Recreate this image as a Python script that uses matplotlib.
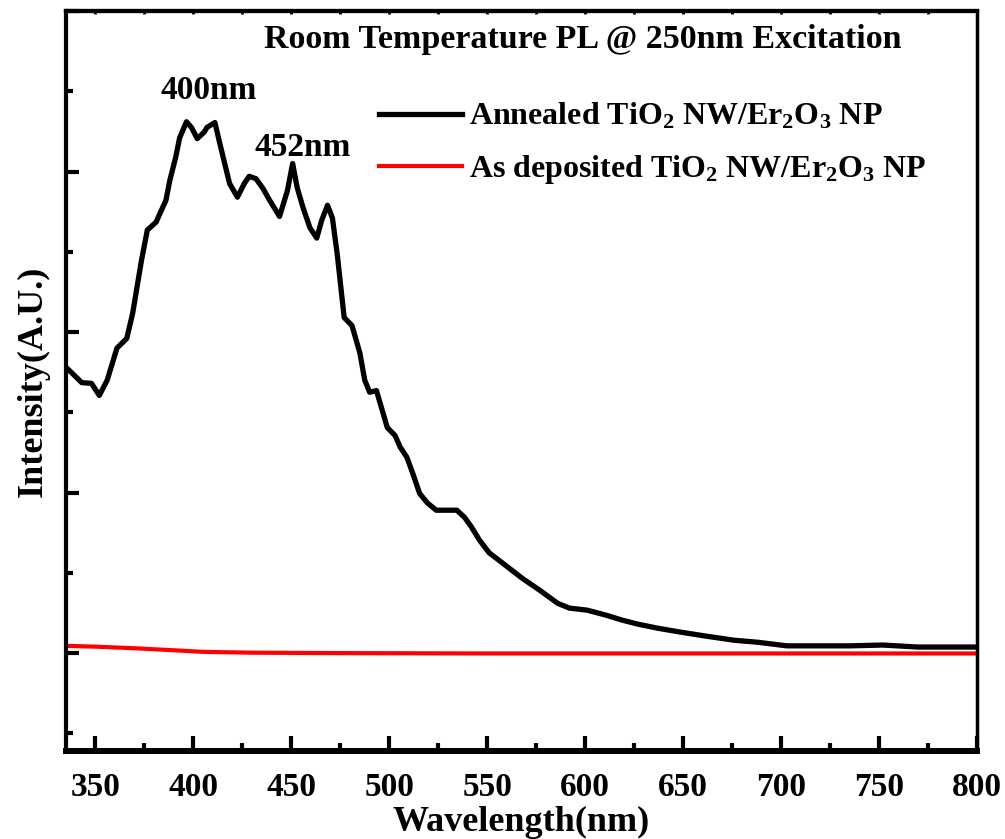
import matplotlib
matplotlib.use("Agg")
import matplotlib.pyplot as plt
from matplotlib.ticker import MultipleLocator

# Spectres PL (intensité en unités arbitraires)
wl_annealed = [335, 338, 343, 348, 352, 356, 361, 366, 369, 373.5, 376.5, 381, 383, 386, 388,
               391, 393, 396.5, 399, 402, 405.5, 407, 411, 414, 418.5, 422.5, 426, 428.5,
               432, 435.5, 439, 444, 448, 450.7, 453, 456, 459.5, 463, 465.5, 468.5, 471,
               473.5, 477, 481, 485, 487.5, 490, 493.5, 496, 499, 503, 505.5, 509, 512,
               515.5, 519.5, 524, 529.5, 534.5, 538.5, 542, 546, 551, 559, 568, 577, 586,
               592, 601, 611, 619, 627, 637, 649, 662, 676, 688, 703, 719, 735, 752, 770,
               787, 800]
int_annealed = [3560, 3490, 3370, 3360, 3210, 3400, 3800, 3920, 4230, 4890, 5270, 5370, 5480,
                5640, 5890, 6180, 6420, 6620, 6550, 6410, 6490, 6550, 6610, 6300, 5850, 5680,
                5850, 5940, 5910, 5790, 5640, 5440, 5760, 6100, 5800, 5550, 5300, 5170, 5390,
                5580, 5420, 4960, 4180, 4080, 3740, 3400, 3250, 3270, 3060, 2810, 2710, 2570,
                2440, 2240, 1990, 1870, 1780, 1780, 1780, 1690, 1570, 1410, 1250, 1100, 930,
                780, 620, 560, 535, 470, 410, 360, 310, 260, 210, 160, 135, 90, 90, 90, 100,
                75, 75, 75]

wl_asdep = [335, 350, 370, 390, 405, 430, 470, 550, 650, 800]
int_asdep = [90, 80, 60, 35, 15, 5, 0, -5, -5, -5]

label_annealed = r"Annealed TiO$_2$ NW/Er$_2$O$_3$ NP"
label_asdep = r"As deposited TiO$_2$ NW/Er$_2$O$_3$ NP"

plt.rcParams['font.family'] = 'Liberation Serif'
plt.rcParams['font.weight'] = 'bold'
plt.rcParams['mathtext.fontset'] = 'custom'
plt.rcParams['mathtext.rm'] = 'Liberation Serif:bold'
plt.rcParams['mathtext.it'] = 'Liberation Serif:bold'
plt.rcParams['mathtext.bf'] = 'Liberation Serif:bold'

fig = plt.figure(figsize=(10.05, 8.39), dpi=100)
ax = fig.add_axes([0.0657, 0.1049, 0.9063, 0.882])

ax.plot(wl_annealed, int_annealed, color='black', lw=3.8, label=label_annealed)
ax.plot(wl_asdep, int_asdep, color='red', lw=3.0, label=label_asdep)

ax.set_xlim(335, 800)
ax.set_ylim(-1220, 8000)

ax.xaxis.set_major_locator(MultipleLocator(50))
ax.xaxis.set_minor_locator(MultipleLocator(25))
ax.yaxis.set_major_locator(MultipleLocator(2000))
ax.yaxis.set_minor_locator(MultipleLocator(1000))

ax.tick_params(axis='x', which='major', direction='in', length=11, width=3,
               labelsize=24, pad=15, top=False)
ax.tick_params(axis='x', which='minor', direction='in', length=6, width=3, top=False)
ax.tick_params(axis='y', which='major', direction='in', length=9.5, width=3, labelleft=False)
ax.tick_params(axis='y', which='minor', direction='in', length=5, width=3)

# petites graduations sur l'axe du haut
top = ax.secondary_xaxis('top')
top.xaxis.set_major_locator(MultipleLocator(25))
top.tick_params(direction='in', length=2.5, width=2, labeltop=False)
top.spines['top'].set_linewidth(3)

for side, w in [('left', 3), ('bottom', 4.3), ('top', 3), ('right', 2.5)]:
    ax.spines[side].set_linewidth(w)

ax.set_xlabel("Wavelength(nm)", fontsize=26, fontweight='bold', labelpad=2)
ax.set_ylabel("Intensity(A.U.)", fontsize=26, fontweight='bold', labelpad=8)

ax.text(0.567, 0.962, "Room Temperature PL @ 250nm Excitation", transform=ax.transAxes,
        ha='center', va='center', fontsize=24.5, fontweight='bold')
ax.text(408, 7010, "400nm", ha='center', va='center', fontsize=24, fontweight='bold')
ax.text(456, 6300, "452nm", ha='center', va='center', fontsize=24, fontweight='bold')

ax.legend(loc='upper left', bbox_to_anchor=(0.33, 0.895), frameon=False, fontsize=23,
          handlelength=2.6, handletextpad=0.2, labelspacing=0.65, borderaxespad=0)

fig.savefig("out.png", dpi=100)
